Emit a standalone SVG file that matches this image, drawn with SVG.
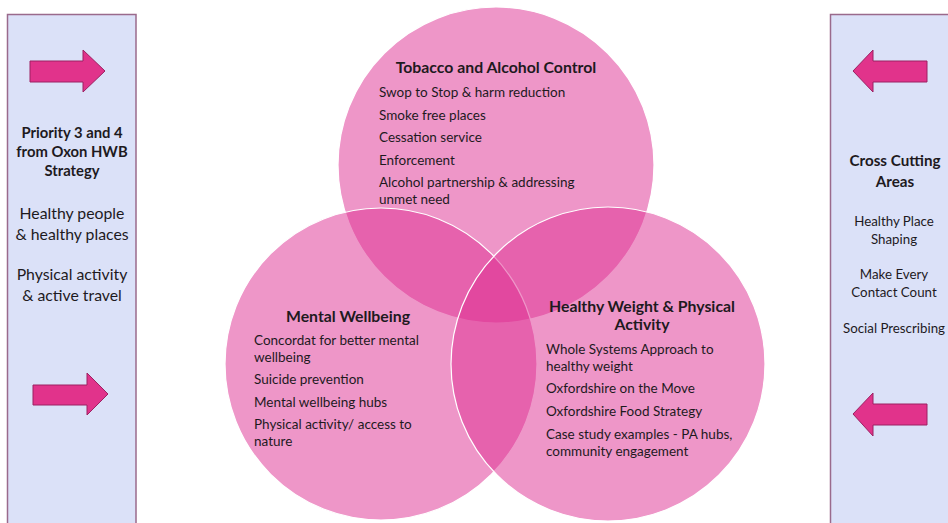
<svg xmlns="http://www.w3.org/2000/svg" width="948" height="523" viewBox="0 0 948 523">
  <style>
    .panel { fill: #dbe1f8; stroke: #9a6a8c; stroke-width: 1.5; }
    .arrow { fill: #e1338b; stroke: #9c2163; stroke-width: 1; stroke-linejoin: miter; }
    .circle { fill: #dd2d91; fill-opacity: 0.5; stroke: #ffffff; stroke-width: 1.2; }
    text { font-family: "Lato", "Open Sans", "Liberation Sans", sans-serif; fill: #1e1a1e; }
    .head { font-weight: bold; font-size: 15.8px; text-anchor: middle; }
    .headL { font-weight: bold; font-size: 14.8px; text-anchor: middle; }
    .headR { font-weight: bold; font-size: 15.2px; text-anchor: middle; }
    .side { font-size: 15.8px; text-anchor: middle; }
    .sideR { font-size: 13.3px; text-anchor: middle; }
    .item { font-size: 13.5px; }
  </style>

  <!-- Left panel -->
  <g id="panel-left">
    <rect class="panel" x="7.5" y="14.5" width="128.5" height="520"/>
    <polygon class="arrow" points="30,61 83,61 83,50 105,71 83,92 83,82 30,82"/>
    <polygon class="arrow" points="33,385 87,385 87,373 108,394 87,415 87,405 33,405"/>
    <text class="headL" x="72" y="138">Priority 3 and 4</text>
    <text class="headL" x="72" y="157">from Oxon HWB</text>
    <text class="headL" x="72" y="176">Strategy</text>
    <text class="side" x="72" y="219">Healthy people</text>
    <text class="side" x="72" y="240">&amp; healthy places</text>
    <text class="side" x="72" y="280">Physical activity</text>
    <text class="side" x="72" y="301">&amp; active travel</text>
  </g>

  <!-- Right panel -->
  <g id="panel-right">
    <rect class="panel" x="830.5" y="14.5" width="130" height="520"/>
    <polygon class="arrow" points="927,61 873,61 873,50 853,71 873,92 873,82 927,82"/>
    <polygon class="arrow" points="927,404 873,404 873,393 853,414 873,436 873,425 927,425"/>
    <text class="headR" x="895" y="166">Cross Cutting</text>
    <text class="headR" x="895" y="187">Areas</text>
    <text class="sideR" x="894" y="226">Healthy Place</text>
    <text class="sideR" x="894" y="244">Shaping</text>
    <text class="sideR" x="894" y="279">Make Every</text>
    <text class="sideR" x="894" y="297">Contact Count</text>
    <text class="sideR" x="894" y="333">Social Prescribing</text>
  </g>

  <!-- Venn circles -->
  <g id="circle-tobacco">
    <circle class="circle" cx="496" cy="165" r="158"/>
  </g>
  <g id="circle-mental">
    <circle class="circle" cx="381" cy="364" r="156"/>
  </g>
  <g id="circle-weight">
    <circle class="circle" cx="608" cy="364" r="157"/>
  </g>

  <!-- Circle labels -->
  <g id="label-tobacco">
    <text class="head" x="496" y="73">Tobacco and Alcohol Control</text>
    <text class="item" x="379" y="97">Swop to Stop &amp; harm reduction</text>
    <text class="item" x="379" y="120">Smoke free places</text>
    <text class="item" x="379" y="142">Cessation service</text>
    <text class="item" x="379" y="165">Enforcement</text>
    <text class="item" x="379" y="187">Alcohol partnership &amp; addressing</text>
    <text class="item" x="379" y="204">unmet need</text>
  </g>
  <g id="label-mental">
    <text class="head" x="348" y="322">Mental Wellbeing</text>
    <text class="item" x="254" y="345">Concordat for better mental</text>
    <text class="item" x="254" y="362">wellbeing</text>
    <text class="item" x="254" y="384">Suicide prevention</text>
    <text class="item" x="254" y="407">Mental wellbeing hubs</text>
    <text class="item" x="254" y="429">Physical activity/ access to</text>
    <text class="item" x="254" y="446">nature</text>
  </g>
  <g id="label-weight">
    <text class="head" x="642" y="312">Healthy Weight &amp; Physical</text>
    <text class="head" x="642" y="330">Activity</text>
    <text class="item" x="546" y="354">Whole Systems Approach to</text>
    <text class="item" x="546" y="371">healthy weight</text>
    <text class="item" x="546" y="393">Oxfordshire on the Move</text>
    <text class="item" x="546" y="416">Oxfordshire Food Strategy</text>
    <text class="item" x="546" y="439">Case study examples - PA hubs,</text>
    <text class="item" x="546" y="456">community engagement</text>
  </g>
</svg>
